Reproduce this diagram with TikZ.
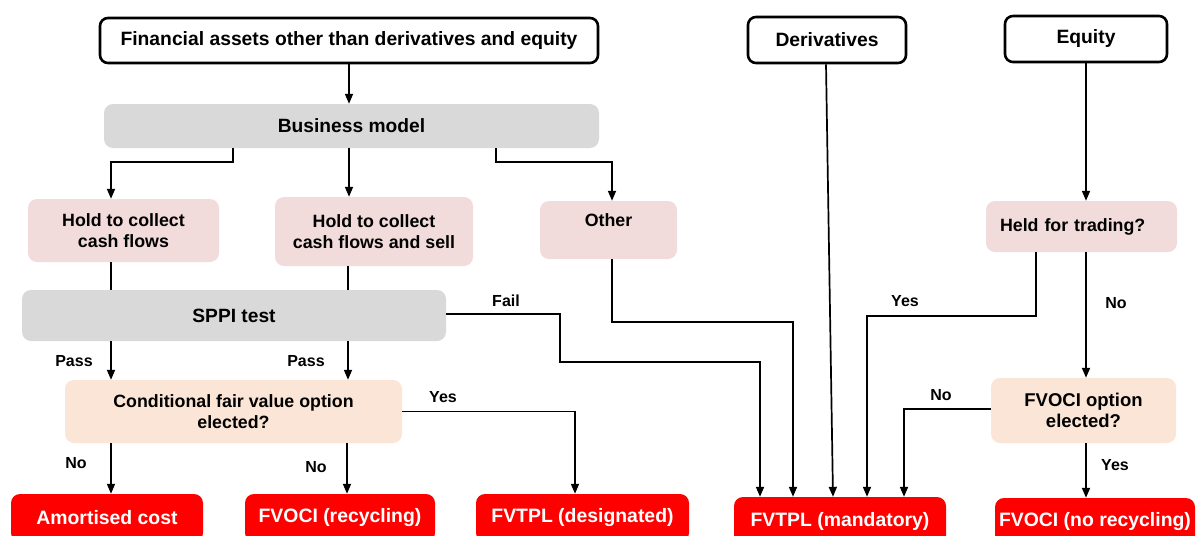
\documentclass[tikz,border=0pt]{standalone}
\usepackage{fontspec}
\setmainfont{Liberation Sans}
\usetikzlibrary{arrows.meta,calc}
\definecolor{bgray}{HTML}{D9D9D9}
\definecolor{bpink}{HTML}{F2DCDB}
\definecolor{bpeach}{HTML}{FBE5D6}
\definecolor{bred}{HTML}{FF0000}
\tikzset{
  topbox/.style={draw=black, line width=2.6pt, rounded corners=8pt, fill=white, inner sep=0pt,
    font=\fontsize{19.3}{21}\selectfont\bfseries},
  fillbox/.style={draw=none, rounded corners=9pt, inner sep=0pt, align=center,
    font=\fontsize{17.8}{21}\selectfont\bfseries},
  graybox/.style={fillbox, fill=bgray, font=\fontsize{19.2}{21}\selectfont\bfseries},
  pinkbox/.style={fillbox, fill=bpink},
  peachbox/.style={fillbox, fill=bpeach},
  redbox/.style={fillbox, fill=bred, text=white, font=\fontsize{19.4}{21}\selectfont\bfseries},
  arr/.style={line width=1.7pt, -{Triangle[length=10pt,width=8pt]}},
  ln/.style={line width=1.7pt},
  lab/.style={inner sep=0pt, font=\fontsize{16}{18}\selectfont\bfseries},
}
\begin{document}
\begin{tikzpicture}[x=1pt,y=-1pt]
\useasboundingbox (0,0) rectangle (1198,535);
\clip (0,0) rectangle (1198,535);
% top boxes
\node[topbox, minimum width=498, minimum height=45] (fa) at (349,40.5) {Financial assets other than derivatives and equity};
\node[topbox, minimum width=158, minimum height=46] (dv) at (827,40) {Derivatives};
\node[topbox, minimum width=162, minimum height=46] (eq) at (1086,39) {Equity};
% business model
\node[graybox, minimum width=495, minimum height=44] (bm) at (351.5,126) {Business model};
\node[pinkbox, minimum width=191, minimum height=63] (hc) at (123.5,230.5) {Hold to collect\\cash flows};
\node[pinkbox, minimum width=198, minimum height=69] (hcs) at (374,231.5) {Hold to collect\\cash flows and sell};
\node[pinkbox, minimum width=137, text height=13pt, text depth=20pt, inner ysep=12.5pt] (oth) at (608.5,230) {Other};
\node[pinkbox, minimum width=191, minimum height=51, text width=175pt, align=left, inner xsep=8pt] (held) at (1081.5,226.5) {\hspace*{6pt}Held for trading?};
\node[graybox, minimum width=424, minimum height=51] (sppi) at (234,315.5) {SPPI test};
\node[peachbox, minimum width=337, minimum height=63] (cond) at (233.5,411.5) {Conditional fair value option\\elected?};
\node[peachbox, minimum width=185, minimum height=65, font=\fontsize{18.5}{21}\selectfont\bfseries] (fopt) at (1083.5,410.5) {FVOCI option\\elected?};
% results
\node[redbox, minimum width=192, minimum height=48] (ac) at (107,518) {Amortised cost};
\node[redbox, minimum width=190, minimum height=48] (fr) at (340,518) {FVOCI (recycling)};
\node[redbox, minimum width=213, minimum height=48] (fd) at (582.5,518) {FVTPL (designated)};
\node[redbox, minimum width=212, minimum height=48] (fm) at (840,521) {FVTPL (mandatory)};
\node[redbox, minimum width=200, minimum height=48] (fn) at (1095,522) {FVOCI (no recycling)};
% connectors
\draw[arr] (fa.south) -- (fa.south |- bm.north);
\draw[arr] ([xshift=-118.5pt]bm.south) -- ++(0,14) -| ([xshift=-12.5pt]hc.north);
\draw[arr] ([xshift=-2.5pt]bm.south) -- ([xshift=-2.5pt]bm.south |- hcs.north);
\draw[arr] ([xshift=144.5pt]bm.south) -- ++(0,14) -| ([xshift=3.5pt]oth.north);
\draw[ln] ([xshift=-12.5pt]hc.south) -- ([xshift=-12.5pt]hc.south |- sppi.north);
\draw[ln] ([xshift=-26pt]hcs.south) -- ([xshift=-26pt]hcs.south |- sppi.north);
\draw[arr] ([xshift=-123pt]sppi.south) -- ([xshift=-123pt]sppi.south |- cond.north);
\draw[arr] ([xshift=114pt]sppi.south) -- ([xshift=114pt]sppi.south |- cond.north);
\draw[arr] ([xshift=-122.5pt]cond.south) -- ([xshift=-122.5pt]cond.south |- ac.north);
\draw[arr] ([xshift=113.5pt]cond.south) -- ([xshift=113.5pt]cond.south |- fr.north);
\draw[arr] (cond.east) -| (fd.north -| 575,0);
\draw[arr] ([yshift=1.5pt]sppi.east) -- (560,314) -- (560,362) -| ([xshift=-80pt]fm.north);
\draw[arr] ([xshift=3.5pt]oth.south) -- ++(0,63) -| ([xshift=-47pt]fm.north);
\draw[arr] ([xshift=-1pt]dv.south) -- ([xshift=-7pt]fm.north);
\draw[arr] (eq.south) -- (eq.south |- held.north);
\draw[arr] ([xshift=-45.5pt]held.south) -- ++(0,64) -| ([xshift=27pt]fm.north);
\draw[arr] ([xshift=4.5pt]held.south) -- ([xshift=4.5pt]held.south |- fopt.north);
\draw[arr] ([yshift=1.5pt]fopt.west) -| ([xshift=64pt]fm.north);
\draw[arr] ([xshift=2.5pt]fopt.south) -- ([xshift=2.5pt]fopt.south |- fn.north);
% labels
\node[lab] (lp1) at (74,361) {Pass};
\node[lab] (lp2) at (306,361) {Pass};
\node[lab] (ln1) at (76,463) {No};
\node[lab] (ln2) at (316,467) {No};
\node[lab] (ly1) at (443,397) {Yes};
\node[lab] (lf) at (506,301) {Fail};
\node[lab] (ly2) at (905,301) {Yes};
\node[lab] (ln3) at (1116,303) {No};
\node[lab] (ln4) at (941,395) {No};
\node[lab] (ly3) at (1115,465) {Yes};
\end{tikzpicture}
\end{document}
